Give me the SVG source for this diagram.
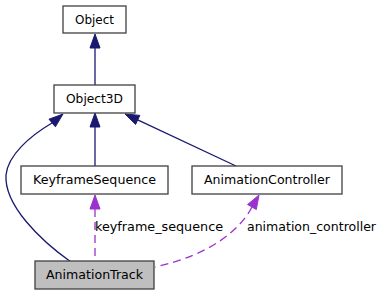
<svg xmlns="http://www.w3.org/2000/svg" width="383" height="296" viewBox="0 0 383 296">
  <style>
    .box { fill: #ffffff; stroke: #404040; stroke-width: 1.3; }
    .cur { fill: #bfbfbf; }
    .lbl { font-family: "DejaVu Sans", "Liberation Sans", sans-serif; font-size: 12.5px; fill: #000000; }
    .node-t { text-anchor: middle; }
    .inh { fill: none; stroke: #191970; stroke-width: 1.3; }
    .inh-h { fill: #191970; stroke: #191970; stroke-width: 1; }
    .use { fill: none; stroke: #9a32cd; stroke-width: 1.3; stroke-dasharray: 8,5; }
    .use-h { fill: #9a32cd; stroke: #9a32cd; stroke-width: 1; }
  </style>
  <rect width="383" height="296" fill="#ffffff"/>

  <g id="edges">
    <!-- Object3D -> Object -->
    <path class="inh" d="M95,48 L95,85"/>
    <polygon class="inh-h" points="95,34 100,48 90,48"/>
    <!-- KeyframeSequence -> Object3D -->
    <path class="inh" d="M95,127 L95,166"/>
    <polygon class="inh-h" points="95,113 100,127 90,127"/>
    <!-- AnimationTrack -> Object3D -->
    <path class="inh" d="M52,123 C30,136 8,155 6,175 C4,205 40,240 71,262"/>
    <polygon class="inh-h" points="63,114 55.4,126.8 49,119.2"/>
    <!-- AnimationController -> Object3D -->
    <path class="inh" d="M137.7,119.9 L236,166"/>
    <polygon class="inh-h" points="125,114 135.6,124.4 139.8,115.4"/>
    <!-- keyframe_sequence -->
    <path class="use" d="M95,209 L95,261"/>
    <polygon class="use-h" points="95,195 100,209 90,209"/>
    <!-- animation_controller -->
    <path class="use" d="M252,207 C240,230 210,255 155,267"/>
    <polygon class="use-h" points="259,195 256.3,209.5 247.6,204.5"/>
    <text class="lbl" x="95" y="231" textLength="128" lengthAdjust="spacingAndGlyphs">keyframe_sequence</text>
    <text class="lbl" x="247" y="231" textLength="129" lengthAdjust="spacingAndGlyphs">animation_controller</text>
  </g>

  <g id="node-object">
    <rect class="box" x="63" y="6" width="63" height="27"/>
    <text class="lbl node-t" x="94.5" y="24" textLength="39" lengthAdjust="spacingAndGlyphs">Object</text>
  </g>
  <g id="node-object3d">
    <rect class="box" x="54" y="85" width="81" height="28"/>
    <text class="lbl node-t" x="94.5" y="103" textLength="57" lengthAdjust="spacingAndGlyphs">Object3D</text>
  </g>
  <g id="node-keyframesequence">
    <rect class="box" x="21" y="166" width="147" height="28"/>
    <text class="lbl node-t" x="94.5" y="184" textLength="123" lengthAdjust="spacingAndGlyphs">KeyframeSequence</text>
  </g>
  <g id="node-animationcontroller">
    <rect class="box" x="192" y="166" width="150" height="28"/>
    <text class="lbl node-t" x="267" y="184" textLength="126" lengthAdjust="spacingAndGlyphs">AnimationController</text>
  </g>
  <g id="node-animationtrack">
    <rect class="box cur" x="35" y="261" width="119" height="28"/>
    <text class="lbl node-t" x="94.5" y="279" textLength="97" lengthAdjust="spacingAndGlyphs">AnimationTrack</text>
  </g>
</svg>
